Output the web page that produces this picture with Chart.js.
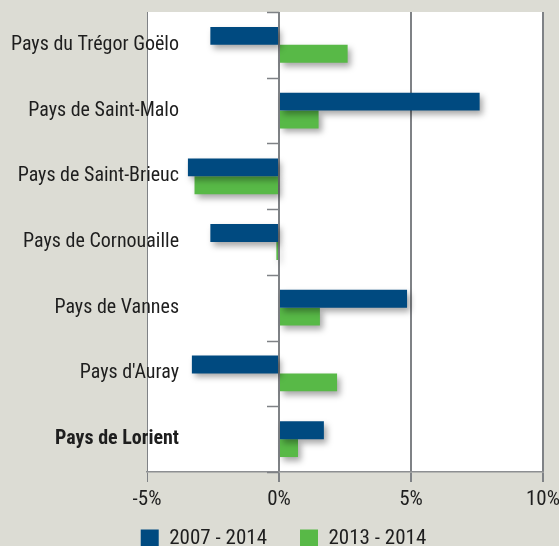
<!DOCTYPE html>
<html>
<head>
<meta charset="utf-8">
<script src="https://cdn.jsdelivr.net/npm/chart.js@4.4.0/dist/chart.umd.min.js"></script>
<style>
html, body { margin:0; padding:0; background:#dcdcd4; overflow:hidden; }
canvas { display:block; }
</style>
</head>
<body>
<canvas id="chart" width="559" height="559"></canvas>
<script>
const categories = ['Pays du Trégor Goëlo', 'Pays de Saint-Malo', 'Pays de Saint-Brieuc', 'Pays de Cornouaille', 'Pays de Vannes', "Pays d'Auray", 'Pays de Lorient']
const values0714 = [-2.6, 7.6, -3.45, -2.6, 4.85, -3.3, 1.7]
const values1314 = [2.6, 1.5, -3.2, -0.1, 1.55, 2.2, 0.72]
const xTicks = [-5, 0, 5, 10]
const seriesNames = ['2007 - 2014', '2013 - 2014']

const FONT = "'Liberation Sans Narrow', 'Roboto Condensed', Roboto, sans-serif"
const GRAY = '#7f8286'
const LABEL_SIZE = 20
const LEGEND_PAD = 33
const LEGEND_SIZE = 21
const CANVAS_H = 559
const PLOT_BOTTOM = 472


// width of the longest category label, so the labels can hang into the plot
function widestLabel(){
	const c = document.createElement('canvas').getContext('2d')
	let w = 0
	categories.forEach((t, i) => {
		c.font = (i === categories.length - 1 ? 'bold ' : 'normal ') + LABEL_SIZE + 'px ' + FONT
		w = Math.max(w, c.measureText(t).width)
	})
	return w
}
const widest = widestLabel()


// white plot area, like the original
const plotBg = {
	id:'plotBg',
	beforeDraw(chart){
		const { ctx, chartArea:a } = chart
		ctx.save()
		ctx.fillStyle = '#ffffff'
		ctx.fillRect(a.left, a.top, a.right - a.left, a.bottom - a.top)
		ctx.restore()
	}
}

// small category marks on the 0% line
const catMarks = {
	id:'catMarks',
	beforeDatasetsDraw(chart){
		const { ctx, scales:{ x, y } } = chart
		const x0 = x.getPixelForValue(0)
		ctx.save()
		ctx.strokeStyle = GRAY
		ctx.lineWidth = 1.5
		for(let i = 0; i <= categories.length; i++){
			const py = Math.round(y.getPixelForValue(i - 0.5)) + 0.5
			ctx.beginPath()
			ctx.moveTo(x0 - 12, py)
			ctx.lineTo(x0, py)
			ctx.stroke()
		}
		ctx.restore()
	}
}

// drop shadow under bars
const barShadow = {
	id:'barShadow',
	beforeDatasetsDraw(chart){
		const ctx = chart.ctx
		ctx.save()
		ctx.shadowColor = 'rgba(0,0,0,0.35)'
		ctx.shadowBlur = 6
		ctx.shadowOffsetX = 3
		ctx.shadowOffsetY = 4
	},
	afterDatasetsDraw(chart){
		chart.ctx.restore()
	}
}

new Chart(document.getElementById('chart'), {
	type:'bar',
	data:{
		labels:categories,
		datasets:[
			{ label:seriesNames[0], data:values0714, backgroundColor:'#004a80' },
			{ label:seriesNames[1], data:values1314, backgroundColor:'#58b947' }
		]
	},
	options:{
		indexAxis:'y',
		responsive:false,
		animation:false,
		devicePixelRatio:1,
		layout:{ padding:{ top:12, right:16, bottom:0, left:24 } },
		datasets:{ bar:{ barPercentage:1, categoryPercentage:0.545 } },
		plugins:{
			legend:{
				position:'bottom',
				labels:{
					boxWidth:18,
					boxHeight:18,
					padding:LEGEND_PAD,
					color:'#1e1e1e',
					font:{ family:FONT, size:LEGEND_SIZE }
				}
			},
			tooltip:{ enabled:false }
		},
		scales:{
			x:{
				min:-5,
				max:10,
				afterBuildTicks: s => { s.ticks = xTicks.map(v => ({ value:v })) },
				afterFit: s => {
					s.height = CANVAS_H - LEGEND_SIZE - LEGEND_PAD - 10 - PLOT_BOTTOM
					s.paddingLeft = 0
					s.paddingRight = 0
				},
				grid:{
					color:GRAY,
					lineWidth: c => c.tick && c.tick.value === -5 ? 1 : 2,
					tickLength:10
				},
				border:{ color:'#8d8f92', width:1.5 },
				ticks:{
					mirror:true,
					padding:-40,
					color:'#1e1e1e',
					font:{ family:FONT, size:21 },
					callback: v => v + '%'
				}
			},
			y:{
				afterFit: s => { s.width = 123; s.paddingTop = 0; s.paddingBottom = 0 },
				grid:{ display:false, drawTicks:false },
				border:{ display:false },
				ticks:{
					autoSkip:false,
					mirror:true,
					crossAlign:'far',
					padding:32 - widest,
					color:'#1e1e1e',
					font: c => ({ family:FONT, size:LABEL_SIZE, weight: c.index === categories.length - 1 ? 'bold' : 'normal' })
				}
			}
		}
	},
	plugins:[plotBg, catMarks, barShadow]
})
</script>
</body>
</html>
